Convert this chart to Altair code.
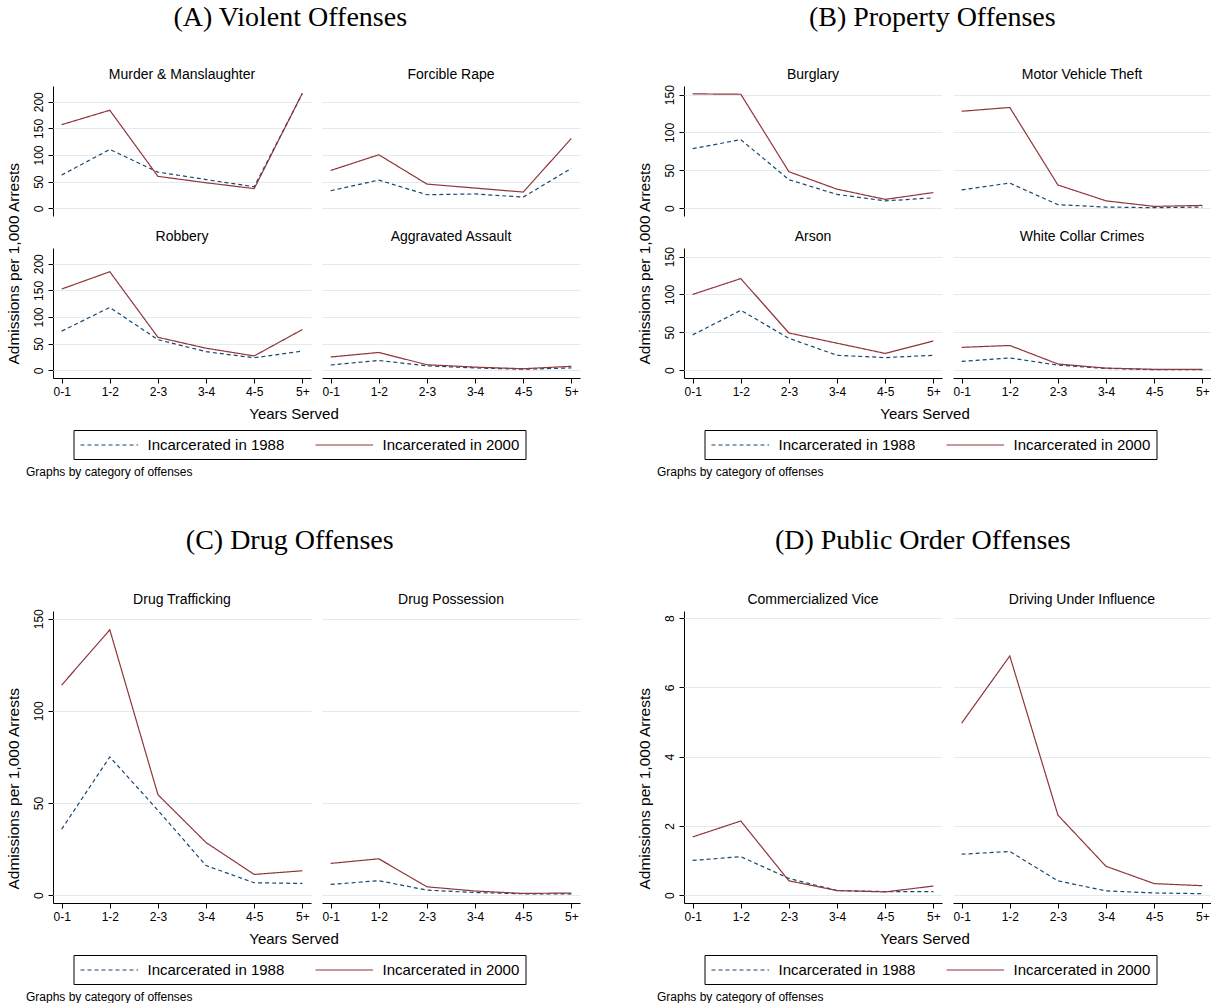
import altair as alt
import pandas as pd

YEARS = ["0-1", "1-2", "2-3", "3-4", "4-5", "5+"]
SERIES = ["Incarcerated in 1988", "Incarcerated in 2000"]

# (A) Violent offenses
violent_crimes = ["Murder & Manslaughter", "Forcible Rape", "Robbery", "Aggravated Assault"]
violent_1988 = [
    [62.5, 110.5, 68, 54, 40.5, 215],
    [33, 53, 25.5, 27, 21, 75],
    [73.5, 118, 57.5, 35, 23.5, 36],
    [10, 18.5, 8.5, 4.5, 2, 4.5],
]
violent_2000 = [
    [157, 184, 60, 48, 37, 216],
    [71, 100.5, 45.5, 38, 30.5, 131],
    [152.5, 185, 62, 41.5, 27, 76.5],
    [25, 33.5, 10.5, 6, 3, 7.5],
]

# (B) Property offenses
property_crimes = ["Burglary", "Motor Vehicle Theft", "Arson", "White Collar Crimes"]
property_1988 = [
    [78.5, 90.5, 37.5, 18, 9.5, 13.5],
    [24, 33, 4.5, 1.3, 0.5, 1.3],
    [46.5, 79, 42, 19.5, 16.5, 19.5],
    [11.5, 16, 6.5, 2.2, 0.5, 0.5],
]
property_2000 = [
    [151, 150.5, 48, 25, 11.5, 20.5],
    [128, 133, 30.5, 9.5, 2.2, 3.5],
    [100, 121, 49, 35.5, 22, 38.5],
    [30, 32.5, 8, 2.6, 1, 1],
]

# (C) Drug offenses
drug_crimes = ["Drug Trafficking", "Drug Possession"]
drug_1988 = [
    [35.8, 75, 46, 16, 6.7, 6.3],
    [5.8, 7.8, 2.7, 1.4, 0.7, 0.7],
]
drug_2000 = [
    [114, 144, 54.5, 28.5, 11.2, 13.2],
    [17.2, 19.7, 4.5, 2.2, 0.9, 1.1],
]

# (D) Public order offenses
public_crimes = ["Commercialized Vice", "Driving Under Influence"]
public_1988 = [
    [1.0, 1.11, 0.48, 0.13, 0.1, 0.1],
    [1.18, 1.26, 0.41, 0.12, 0.06, 0.04],
]
public_2000 = [
    [1.68, 2.14, 0.41, 0.13, 0.09, 0.26],
    [4.97, 6.91, 2.31, 0.83, 0.33, 0.27],
]

SANS = "Liberation Sans"
SERIF = "Liberation Serif"
BLUE = "#1a476f"
RED = "#90353b"
GRID = "#e3ebee"
INDEP = dict(color="independent", strokeDash="independent")


def long_table(crimes, s1988, s2000):
    rows = []
    for crime, a, b in zip(crimes, s1988, s2000):
        for yr, v in zip(YEARS, a):
            rows.append({"crime": crime, "years": yr, "series": SERIES[0], "value": v})
        for yr, v in zip(YEARS, b):
            rows.append({"crime": crime, "years": yr, "series": SERIES[1], "value": v})
    return pd.DataFrame(rows)


def legend(lx, ly):
    return alt.Legend(
        title=None,
        orient="none",
        legendX=lx,
        legendY=ly,
        direction="horizontal",
        symbolType="M-1,0H6.2",
        symbolSize=256,
        symbolStrokeWidth=1.2,
        labelOffset=50,
        labelFont=SANS,
        labelFontSize=15,
        labelColor="black",
        columnPadding=28,
        strokeColor="black",
        padding=6,
        labelLimit=0,
    )


def block(heading, crimes, s1988, s2000, ydomain, yticks, head_dx, head_offset, h):
    df = long_table(crimes, s1988, s2000)
    base = alt.Chart(df).mark_line(strokeWidth=1.2).encode(
        x=alt.X(
            "years:N",
            sort=YEARS,
            scale=alt.Scale(type="point", padding=0.18),
            axis=alt.Axis(title=None, labelAngle=0, grid=False, labelFontSize=12, labelPadding=3),
        ),
        y=alt.Y(
            "value:Q",
            scale=alt.Scale(domain=ydomain, nice=False, zero=False),
            axis=alt.Axis(values=yticks, title=None, labelAngle=270, labelFontSize=12,
                          labelPadding=3, grid=True),
        ),
        color=alt.Color("series:N", sort=SERIES,
                        scale=alt.Scale(domain=SERIES, range=[BLUE, RED]), legend=legend(20.5, 344)),
        strokeDash=alt.StrokeDash("series:N", sort=SERIES,
                                  scale=alt.Scale(domain=SERIES, range=[[4, 3], [1, 0]]),
                                  legend=legend(20.5, 344)),
    ).properties(width=258, height=h)

    # small multiples with the shared x-axis title underneath
    fac = base.facet(
        facet=alt.Facet(
            "crime:N", sort=crimes, title=None,
            header=alt.Header(labelFont=SANS, labelFontSize=14, labelColor="black", labelPadding=4),
        ),
        columns=2,
        spacing={"row": 14, "column": 11},
    ).properties(
        title=alt.TitleParams(
            "Years Served", orient="bottom", anchor="middle", font=SANS, fontSize=15,
            fontWeight="normal", color="black", offset=10, dx=-12,
        )
    )
    # shared y-axis title; the legend is gathered at this level
    with_y = alt.vconcat(fac).properties(
        title=alt.TitleParams(
            "Admissions per 1,000 Arrests", orient="left", anchor="middle", font=SANS,
            fontSize=15.5, fontWeight="normal", color="black", offset=10,
        )
    )
    # note under the legend
    with_note = alt.vconcat(with_y).properties(
        title=alt.TitleParams(
            "Graphs by category of offenses", orient="bottom", anchor="start", frame="bounds",
            font=SANS, fontSize=12, fontWeight="normal", color="black", offset=7, dx=19.5,
        )
    ).resolve_scale(**INDEP)
    # panel heading
    return alt.vconcat(with_note).properties(
        title=alt.TitleParams(
            heading, anchor="middle", frame="bounds", font=SERIF, fontSize=28,
            fontWeight="normal", color="black", offset=head_offset, dx=head_dx,
        )
    ).resolve_scale(**INDEP)


panel_a = block("(A) Violent Offenses", violent_crimes, violent_1988, violent_2000,
                [-14.4, 229.5], [0, 50, 100, 150, 200], -3, 36, 130)
panel_b = block("(B) Property Offenses", property_crimes, property_1988, property_2000,
                [-10.5, 161.4], [0, 50, 100, 150], 8, 36, 130)
panel_c = block("(C) Drug Offenses", drug_crimes, drug_1988, drug_2000,
                [-4.3, 154.2], [0, 50, 100, 150], -3.5, 38, 292)
panel_d = block("(D) Public Order Offenses", public_crimes, public_1988, public_2000,
                [-0.23, 8.21], [0, 2, 4, 6, 8], -1.5, 38, 292)

top = alt.hconcat(panel_a, panel_b, spacing=57).resolve_scale(**INDEP)
bottom = alt.hconcat(panel_c, panel_d, spacing=57).resolve_scale(**INDEP)

chart = alt.vconcat(top, bottom, spacing=49).resolve_scale(**INDEP).properties(
    padding={"left": 6, "top": 4, "right": 0, "bottom": 0},
).configure(
    font=SANS,
).configure_view(
    stroke=None,
).configure_axis(
    domainColor="black",
    tickColor="black",
    labelColor="black",
    titleColor="black",
    labelFont=SANS,
    titleFont=SANS,
    titleFontWeight="normal",
    gridColor=GRID,
    gridWidth=1,
    tickSize=5,
    domainWidth=1,
    tickWidth=1,
)

chart.save("out.html", embed_options={"renderer": "svg", "actions": False})
